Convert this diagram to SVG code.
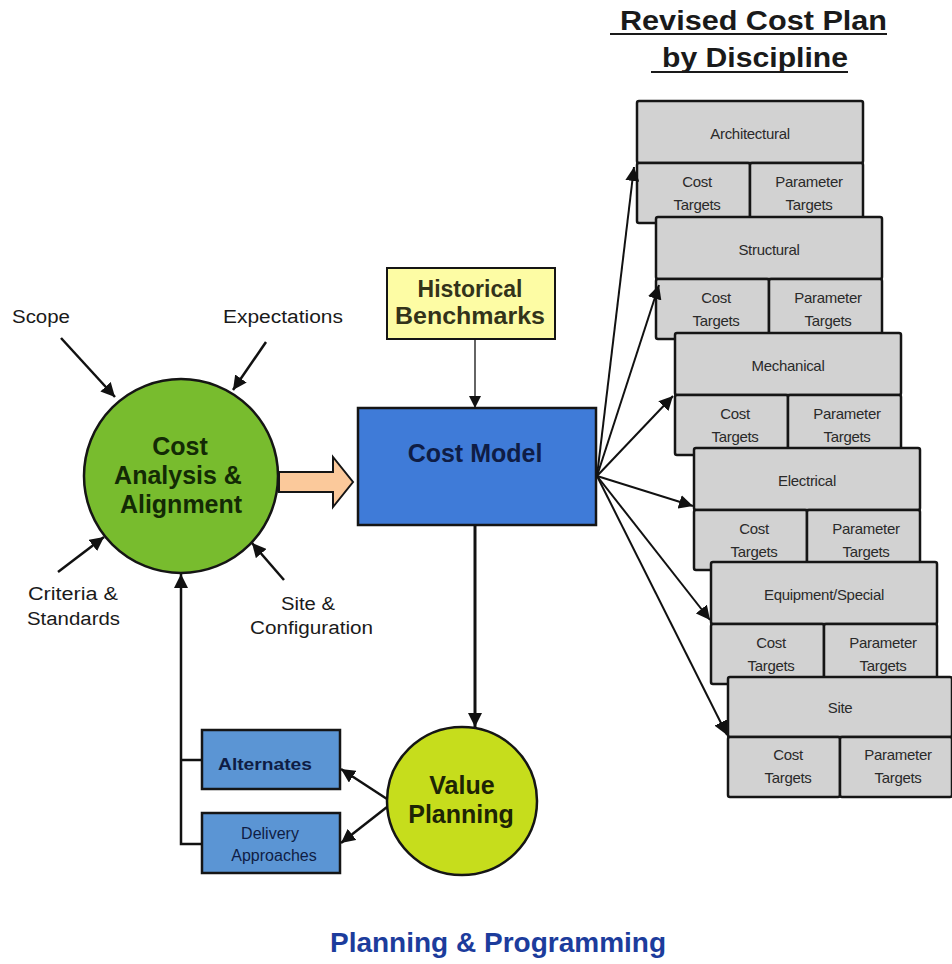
<svg xmlns="http://www.w3.org/2000/svg" width="952" height="964" viewBox="0 0 952 964">
  <style>
    text { font-family: "Liberation Sans", Arial, sans-serif; }
    .lbl { font-size: 18px; fill: #1a1a1a; }
    .bold { font-weight: bold; }
    .disc rect { fill: #d2d2d2; stroke: #151515; stroke-width: 2.5; }
    .disc text { font-size: 15px; fill: #2a2a2a; text-anchor: middle; letter-spacing: -0.3px; }
    .conn { stroke: #111; fill: none; }
  </style>
  <defs>
    <marker id="ah" viewBox="0 0 10 10" refX="10" refY="5" markerWidth="14" markerHeight="14" markerUnits="userSpaceOnUse" orient="auto">
      <path d="M0,0 L10,5 L0,10 z" fill="#111"/>
    </marker>
    <marker id="ahs" viewBox="0 0 10 10" refX="10" refY="5" markerWidth="12" markerHeight="12" markerUnits="userSpaceOnUse" orient="auto">
      <path d="M0,0 L10,5 L0,10 z" fill="#111"/>
    </marker>
  </defs>

  <!-- heading over the discipline stack -->
  <g id="title">
    <text x="620" y="30" class="bold" font-size="27" fill="#1a1a1a" textLength="267" lengthAdjust="spacingAndGlyphs">Revised Cost Plan</text>
    <line x1="610" y1="34" x2="887" y2="34" stroke="#1a1a1a" stroke-width="2"/>
    <text x="662" y="67" class="bold" font-size="27" fill="#1a1a1a" textLength="186" lengthAdjust="spacingAndGlyphs">by Discipline</text>
    <line x1="651" y1="72" x2="848" y2="72" stroke="#1a1a1a" stroke-width="2"/>
  </g>

  <!-- discipline cost plans -->
  <g id="architectural" class="disc" transform="translate(637,101)">
    <rect x="0" y="0" width="226" height="62" rx="2"/>
    <rect x="0" y="62" width="113" height="60" rx="2"/>
    <rect x="113" y="62" width="113" height="60" rx="2"/>
    <text x="113" y="38">Architectural</text>
    <text x="60" y="86">Cost</text><text x="60" y="109">Targets</text>
    <text x="172" y="86">Parameter</text><text x="172" y="109">Targets</text>
  </g>
  <g id="structural" class="disc" transform="translate(656,217)">
    <rect x="0" y="0" width="226" height="62" rx="2"/>
    <rect x="0" y="62" width="113" height="60" rx="2"/>
    <rect x="113" y="62" width="113" height="60" rx="2"/>
    <text x="113" y="38">Structural</text>
    <text x="60" y="86">Cost</text><text x="60" y="109">Targets</text>
    <text x="172" y="86">Parameter</text><text x="172" y="109">Targets</text>
  </g>
  <g id="mechanical" class="disc" transform="translate(675,333)">
    <rect x="0" y="0" width="226" height="62" rx="2"/>
    <rect x="0" y="62" width="113" height="60" rx="2"/>
    <rect x="113" y="62" width="113" height="60" rx="2"/>
    <text x="113" y="38">Mechanical</text>
    <text x="60" y="86">Cost</text><text x="60" y="109">Targets</text>
    <text x="172" y="86">Parameter</text><text x="172" y="109">Targets</text>
  </g>
  <g id="electrical" class="disc" transform="translate(694,448)">
    <rect x="0" y="0" width="226" height="62" rx="2"/>
    <rect x="0" y="62" width="113" height="60" rx="2"/>
    <rect x="113" y="62" width="113" height="60" rx="2"/>
    <text x="113" y="38">Electrical</text>
    <text x="60" y="86">Cost</text><text x="60" y="109">Targets</text>
    <text x="172" y="86">Parameter</text><text x="172" y="109">Targets</text>
  </g>
  <g id="equipment" class="disc" transform="translate(711,562)">
    <rect x="0" y="0" width="226" height="62" rx="2"/>
    <rect x="0" y="62" width="113" height="60" rx="2"/>
    <rect x="113" y="62" width="113" height="60" rx="2"/>
    <text x="113" y="38">Equipment/Special</text>
    <text x="60" y="86">Cost</text><text x="60" y="109">Targets</text>
    <text x="172" y="86">Parameter</text><text x="172" y="109">Targets</text>
  </g>
  <g id="site" class="disc" transform="translate(728,677)">
    <rect x="0" y="0" width="224" height="60" rx="2"/>
    <rect x="0" y="60" width="112" height="60" rx="2"/>
    <rect x="112" y="60" width="112" height="60" rx="2"/>
    <text x="112" y="36">Site</text>
    <text x="60" y="83">Cost</text><text x="60" y="106">Targets</text>
    <text x="170" y="83">Parameter</text><text x="170" y="106">Targets</text>
  </g>

  <!-- central nodes -->
  <g id="historical-benchmarks">
    <rect x="387" y="268" width="168" height="71" fill="#fdfca4" stroke="#151515" stroke-width="2"/>
    <text x="470" y="297" class="bold" font-size="23" fill="#33331a" text-anchor="middle">Historical</text>
    <text x="470" y="324" class="bold" font-size="23" fill="#33331a" text-anchor="middle" textLength="150" lengthAdjust="spacingAndGlyphs">Benchmarks</text>
  </g>
  <g id="cost-model">
    <rect x="358" y="408" width="238" height="117" fill="#3f7bd8" stroke="#151515" stroke-width="2.5"/>
    <text x="475" y="462" class="bold" font-size="25" fill="#0f1d45" text-anchor="middle">Cost Model</text>
  </g>
  <g id="cost-analysis">
    <circle cx="181" cy="476" r="97" fill="#78bc2e" stroke="#151515" stroke-width="2.5"/>
    <text x="180" y="455" class="bold" font-size="25" fill="#132a05" text-anchor="middle">Cost</text>
    <text x="178" y="484" class="bold" font-size="25" fill="#132a05" text-anchor="middle">Analysis &amp;</text>
    <text x="181" y="513" class="bold" font-size="25" fill="#132a05" text-anchor="middle">Alignment</text>
  </g>
  <g id="value-planning">
    <ellipse cx="462" cy="801" rx="75" ry="74" fill="#c6dd1c" stroke="#151515" stroke-width="2.5"/>
    <text x="462" y="794" class="bold" font-size="25" fill="#1d2405" text-anchor="middle">Value</text>
    <text x="461" y="823" class="bold" font-size="25" fill="#1d2405" text-anchor="middle">Planning</text>
  </g>
  <g id="alternates">
    <rect x="202" y="730" width="138" height="59" fill="#5b95d4" stroke="#151515" stroke-width="2.5"/>
    <text x="265" y="770" class="bold" font-size="17" fill="#0f1d45" text-anchor="middle" textLength="94" lengthAdjust="spacingAndGlyphs">Alternates</text>
  </g>
  <g id="delivery-approaches">
    <rect x="202" y="813" width="138" height="60" fill="#5b95d4" stroke="#151515" stroke-width="2.5"/>
    <text x="270" y="839" font-size="16" fill="#0f1d45" text-anchor="middle">Delivery</text>
    <text x="274" y="861" font-size="16" fill="#0f1d45" text-anchor="middle">Approaches</text>
  </g>

  <!-- input labels -->
  <g id="scope"><text x="12" y="323" class="lbl" textLength="58" lengthAdjust="spacingAndGlyphs">Scope</text></g>
  <g id="expectations"><text x="223" y="323" class="lbl" textLength="120" lengthAdjust="spacingAndGlyphs">Expectations</text></g>
  <g id="criteria">
    <text x="28" y="600" class="lbl" textLength="90" lengthAdjust="spacingAndGlyphs">Criteria &amp;</text>
    <text x="27" y="625" class="lbl" textLength="93" lengthAdjust="spacingAndGlyphs">Standards</text>
  </g>
  <g id="site-config">
    <text x="281" y="610" class="lbl" textLength="54" lengthAdjust="spacingAndGlyphs">Site &amp;</text>
    <text x="250" y="634" class="lbl" textLength="123" lengthAdjust="spacingAndGlyphs">Configuration</text>
  </g>

  <!-- caption -->
  <g id="caption">
    <text x="498" y="952" class="bold" font-size="28" fill="#1c3c9c" text-anchor="middle">Planning &amp; Programming</text>
  </g>

  <!-- connectors -->
  <g id="connectors">
    <!-- inputs into the analysis circle -->
    <line class="conn" x1="61" y1="338" x2="115" y2="397" stroke-width="2.5" marker-end="url(#ah)"/>
    <line class="conn" x1="266" y1="342" x2="233" y2="390" stroke-width="2.5" marker-end="url(#ah)"/>
    <line class="conn" x1="58" y1="572" x2="104" y2="537" stroke-width="2.5" marker-end="url(#ah)"/>
    <line class="conn" x1="284" y1="580" x2="252" y2="543" stroke-width="2.5" marker-end="url(#ah)"/>

    <!-- analysis to cost model -->
    <path d="M279,472 L333,472 L333,457 L353,482 L333,507 L333,492 L279,492 Z" fill="#fbc99b" stroke="#151515" stroke-width="2"/>

    <!-- benchmarks into cost model -->
    <line class="conn" x1="475" y1="339" x2="475" y2="408" stroke-width="1.3" marker-end="url(#ahs)"/>

    <!-- cost model to disciplines -->
    <line class="conn" x1="597" y1="476" x2="634" y2="167" stroke-width="2" marker-end="url(#ah)"/>
    <line class="conn" x1="597" y1="476" x2="659" y2="285" stroke-width="2" marker-end="url(#ah)"/>
    <line class="conn" x1="597" y1="476" x2="673" y2="396" stroke-width="2" marker-end="url(#ah)"/>
    <line class="conn" x1="597" y1="476" x2="693" y2="506" stroke-width="2" marker-end="url(#ah)"/>
    <line class="conn" x1="597" y1="476" x2="710" y2="620" stroke-width="2" marker-end="url(#ah)"/>
    <line class="conn" x1="597" y1="476" x2="727" y2="735" stroke-width="2" marker-end="url(#ah)"/>

    <!-- cost model to value planning -->
    <line class="conn" x1="475" y1="525" x2="475" y2="727" stroke-width="3" marker-end="url(#ah)"/>

    <!-- value planning to options -->
    <line class="conn" x1="387" y1="799" x2="341" y2="769" stroke-width="2.5" marker-end="url(#ah)"/>
    <line class="conn" x1="387" y1="807" x2="341" y2="843" stroke-width="2.5" marker-end="url(#ah)"/>

    <!-- options feed back into analysis -->
    <path class="conn" d="M202,760 L181,760 M202,844 L181,844 L181,574" stroke-width="2.5" marker-end="url(#ah)"/>
  </g>
</svg>
